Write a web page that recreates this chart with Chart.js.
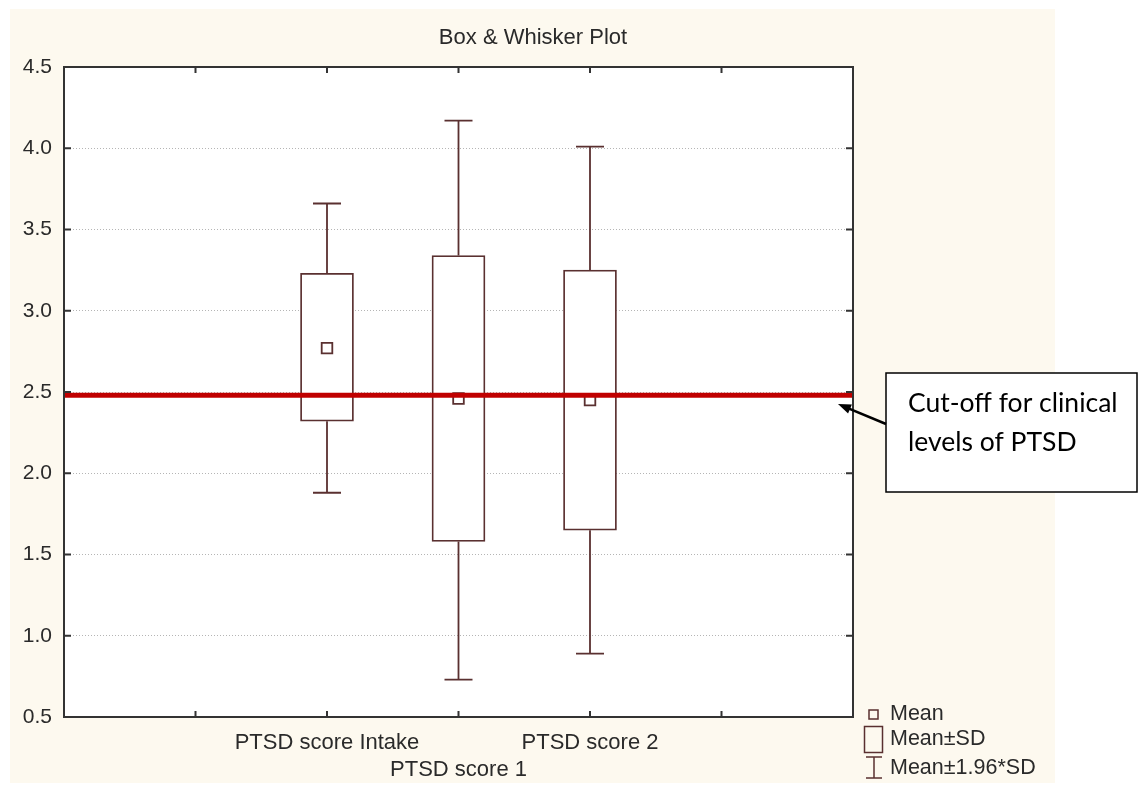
<!DOCTYPE html>
<html>
<head>
<meta charset="utf-8">
<title>Box & Whisker Plot</title>
<script src="https://cdn.jsdelivr.net/npm/chart.js"></script>
<style>
  html, body { margin: 0; padding: 0; background: #fff; }
  canvas { display: block; }
</style>
</head>
<body>
<canvas id="boxChart" width="1139" height="785"></canvas>
<script>
const categories = ['PTSD score Intake', 'PTSD score 1', 'PTSD score 2'];
const means = [2.77, 2.46, 2.45];
const sdLow = [2.32, 1.58, 1.65];      // Mean - SD
const sdHigh = [3.23, 3.34, 3.25];     // Mean + SD
const ciLow = [1.88, 0.73, 0.89];      // Mean - 1.96*SD
const ciHigh = [3.66, 4.17, 4.01];     // Mean + 1.96*SD
const yTicks = [0.5, 1.0, 1.5, 2.0, 2.5, 3.0, 3.5, 4.0, 4.5];
const cutoff = 2.48;

const BROWN = '#5a3030';
const TEXT = '#2a2a2a';
const FONT = '"Liberation Sans", Arial, sans-serif';

// everything Chart.js doesn't draw by itself
const decor = {
  id: 'decor',
  beforeDraw(chart) {
    const { ctx, chartArea: a } = chart;
    ctx.save();
    ctx.fillStyle = '#fdf9ef';
    ctx.fillRect(10, 9, 1045, 774);
    ctx.fillStyle = '#fff';
    ctx.fillRect(a.left, a.top, a.right - a.left, a.bottom - a.top);
    ctx.restore();
  },
  afterDatasetsDraw(chart) {
    const { ctx, chartArea: a, scales: { x, y } } = chart;
    ctx.save();

    // whiskers (mean +/- 1.96*SD)
    ctx.strokeStyle = BROWN;
    ctx.lineWidth = 1.8;
    categories.forEach((c, i) => {
      const px = x.getPixelForValue(i + 2);
      [[sdHigh[i], ciHigh[i]], [sdLow[i], ciLow[i]]].forEach(([from, to]) => {
        const y0 = y.getPixelForValue(from);
        const y1 = y.getPixelForValue(to);
        ctx.beginPath();
        ctx.moveTo(px, y0);
        ctx.lineTo(px, y1);
        ctx.moveTo(px - 14, y1);
        ctx.lineTo(px + 14, y1);
        ctx.stroke();
      });
    });

    // cut-off line
    const cy = y.getPixelForValue(cutoff);
    ctx.strokeStyle = '#c00000';
    ctx.lineWidth = 5;
    ctx.beginPath();
    ctx.moveTo(a.left, cy);
    ctx.lineTo(a.right, cy);
    ctx.stroke();

    // frame and inner tick marks
    ctx.strokeStyle = '#333';
    ctx.lineWidth = 2;
    ctx.strokeRect(a.left, a.top, a.right - a.left, a.bottom - a.top);
    ctx.beginPath();
    y.ticks.forEach(t => {
      const py = y.getPixelForValue(t.value);
      ctx.moveTo(a.left, py); ctx.lineTo(a.left + 7, py);
      ctx.moveTo(a.right, py); ctx.lineTo(a.right - 7, py);
    });
    x.ticks.forEach(t => {
      if (t.value <= x.min || t.value >= x.max) return;
      const px = x.getPixelForValue(t.value);
      ctx.moveTo(px, a.top); ctx.lineTo(px, a.top + 6);
      ctx.moveTo(px, a.bottom); ctx.lineTo(px, a.bottom - 6);
    });
    ctx.stroke();
    ctx.restore();
  },
  afterDraw(chart) {
    const { ctx } = chart;
    ctx.save();

    // title
    ctx.fillStyle = TEXT;
    ctx.font = '22px ' + FONT;
    ctx.textAlign = 'center';
    ctx.textBaseline = 'middle';
    ctx.fillText('Box & Whisker Plot', 533, 38);

    // legend
    ctx.font = '21.5px ' + FONT;
    ctx.textAlign = 'left';
    ctx.fillText('Mean', 890, 714);
    ctx.fillText('Mean±SD', 890, 739);
    ctx.fillText('Mean±1.96*SD', 890, 768);
    ctx.strokeStyle = BROWN;
    ctx.lineWidth = 1.5;
    ctx.strokeRect(869, 710, 9, 9);
    ctx.strokeRect(864.5, 726.5, 18, 26);
    ctx.beginPath();
    ctx.moveTo(874, 757); ctx.lineTo(874, 778);
    ctx.moveTo(866, 757); ctx.lineTo(882, 757);
    ctx.moveTo(866, 778); ctx.lineTo(882, 778);
    ctx.stroke();

    // annotation box
    ctx.fillStyle = '#fff';
    ctx.fillRect(886, 373, 251, 119);
    ctx.strokeStyle = '#000';
    ctx.lineWidth = 1.5;
    ctx.strokeRect(886, 373, 251, 119);
    ctx.fillStyle = '#000';
    ctx.font = '26.5px Lato, "Open Sans", sans-serif';
    ctx.fillText('Cut-off for clinical', 908, 403);
    ctx.fillText('levels of PTSD', 908, 442);

    // arrow to the cut-off line
    const tx = 838, ty = 404, sx = 886, sy = 424;
    const ang = Math.atan2(ty - sy, tx - sx);
    ctx.lineWidth = 2.5;
    ctx.beginPath();
    ctx.moveTo(sx, sy);
    ctx.lineTo(tx - 8 * Math.cos(ang), ty - 8 * Math.sin(ang));
    ctx.stroke();
    ctx.beginPath();
    ctx.moveTo(tx, ty);
    ctx.lineTo(tx - 13 * Math.cos(ang) + 5 * Math.sin(ang), ty - 13 * Math.sin(ang) - 5 * Math.cos(ang));
    ctx.lineTo(tx - 13 * Math.cos(ang) - 5 * Math.sin(ang), ty - 13 * Math.sin(ang) + 5 * Math.cos(ang));
    ctx.closePath();
    ctx.fill();

    ctx.restore();
  }
};

new Chart(document.getElementById('boxChart'), {
  type: 'bar',
  data: {
    datasets: [
      {
        type: 'scatter',
        label: 'Mean',
        data: means.map((m, i) => ({ x: i + 2, y: m })),
        pointStyle: 'rect',
        pointRadius: 7.5,
        pointBackgroundColor: '#fff',
        pointBorderColor: BROWN,
        pointBorderWidth: 1.8,
        order: 0
      },
      {
        label: 'Mean±SD',
        data: categories.map((c, i) => ({ x: i + 2, y: [sdLow[i], sdHigh[i]] })),
        backgroundColor: '#fff',
        borderColor: BROWN,
        borderWidth: 1.8,
        borderSkipped: false,
        barThickness: 53,
        order: 1
      }
    ]
  },
  options: {
    responsive: false,
    animation: false,
    events: [],
    layout: { padding: { left: 0, top: 67, right: 286, bottom: 0 } },
    plugins: {
      legend: { display: false },
      tooltip: { enabled: false },
      title: { display: false }
    },
    scales: {
      x: {
        type: 'linear',
        min: 0,
        max: 6,
        offset: false,
        afterFit: s => { s.height = 68; },
        grid: { display: false, drawTicks: false },
        border: { display: false },
        ticks: {
          stepSize: 1,
          autoSkip: false,
          maxRotation: 0,
          minRotation: 0,
          padding: 13,
          color: TEXT,
          font: { family: FONT, size: 22 },
          callback: v => {
            const i = Math.round(v) - 2;
            if (!categories[i]) return '';
            return i % 2 === 1 ? ['', categories[i]] : categories[i];
          }
        }
      },
      y: {
        min: 0.5,
        max: 4.5,
        afterFit: s => { s.width = 64; },
        afterBuildTicks: s => { s.ticks = yTicks.map(v => ({ value: v })); },
        grid: { color: '#b5b5b5', lineWidth: 1, drawTicks: false },
        border: { display: false, dash: [1, 2] },
        ticks: {
          padding: 12,
          color: TEXT,
          font: { family: FONT, size: 21 },
          callback: v => v.toFixed(1)
        }
      }
    }
  },
  plugins: [decor]
});
</script>
</body>
</html>
